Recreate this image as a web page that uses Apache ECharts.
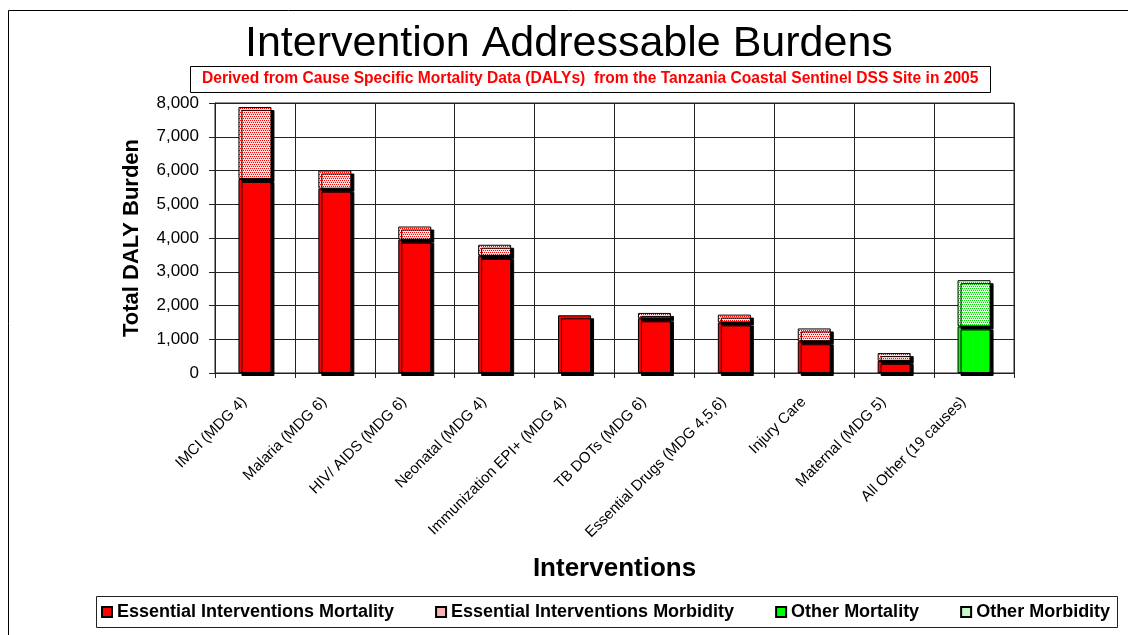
<!DOCTYPE html>
<html>
<head>
<meta charset="utf-8">
<script src="https://cdn.jsdelivr.net/npm/echarts@6/dist/echarts.min.js"></script>
<style>
  html, body { margin: 0; padding: 0; background: #fff; }
  #chart { width: 1128px; height: 635px; }
</style>
</head>
<body>
<div id="chart"></div>
<script>
const categories = [
  "IMCI (MDG 4)",
  "Malaria (MDG 6)",
  "HIV/ AIDS (MDG 6)",
  "Neonatal (MDG 4)",
  "Immunization EPI+ (MDG 4)",
  "TB DOTs (MDG 6)",
  "Essential Drugs (MDG 4,5,6)",
  "Injury Care",
  "Maternal (MDG 5)",
  "All Other (19 causes)"
];
// stacked pieces (DALYs)
const essentialMortality = [5750, 5460, 3950, 3470, 1710, 1620, 1500, 940, 360, "-"];
const essentialMorbidity = [2130, 540, 390, 330, "-", 160, 230, 380, 230, "-"];
const otherMortality = ["-", "-", "-", "-", "-", "-", "-", "-", "-", 1380];
const otherMorbidity = ["-", "-", "-", "-", "-", "-", "-", "-", "-", 1370];
const yTicks = { min: 0, max: 8000, interval: 1000 };

const font = '"Liberation Sans", Arial, sans-serif';

// dotted fill like the old excel pattern
function dots(bg, color) {
  const c = document.createElement("canvas");
  c.width = 4;
  c.height = 4;
  const ctx = c.getContext("2d");
  ctx.fillStyle = bg;
  ctx.fillRect(0, 0, 4, 4);
  ctx.fillStyle = color;
  [[0, 0], [2, 0], [1, 2], [3, 2]].forEach(function (p) {
    ctx.fillRect(p[0], p[1], 1, 1);
  });
  return { image: c, repeat: "repeat" };
}

const barStyle = function (color) {
  return {
    color: color,
    borderColor: "#000",
    borderWidth: 1,
    shadowColor: "#000",
    shadowBlur: 0,
    shadowOffsetX: 3,
    shadowOffsetY: 3
  };
};

function bar(name, data, color) {
  return {
    name: name,
    type: "bar",
    stack: "total",
    barWidth: 33,
    data: data,
    itemStyle: barStyle(color),
    emphasis: { disabled: true }
  };
}

const chart = echarts.init(document.getElementById("chart"), null, { renderer: "canvas" });

chart.setOption({
  animation: false,
  backgroundColor: "#fff",
  textStyle: { fontFamily: font },
  title: [
    {
      text: "Intervention Addressable Burdens",
      left: 240,
      top: 18,
      textStyle: { fontSize: 43, fontWeight: "normal", color: "#000", fontFamily: font }
    },
    {
      text: "Derived from Cause Specific Mortality Data (DALYs)  from the Tanzania Coastal Sentinel DSS Site in 2005",
      left: 190,
      top: 66,
      padding: [5, 12, 6, 12],
      borderColor: "#000",
      borderWidth: 1,
      textStyle: { fontSize: 15.6, fontWeight: "bold", color: "#ff0000", fontFamily: font }
    }
  ],
  graphic: [
    {
      type: "rect",
      shape: { x: 8.5, y: 10.5, width: 1140, height: 640 },
      style: { fill: null, stroke: "#000", lineWidth: 1 },
      silent: true
    },
    {
      type: "rect",
      shape: { x: 96.5, y: 596.5, width: 1021, height: 31 },
      style: { fill: null, stroke: "#222", lineWidth: 1 },
      silent: true
    }
  ],
  legend: {
    left: 101,
    top: 603,
    width: 1100,
    padding: 0,
    itemGap: 41,
    itemWidth: 10,
    itemHeight: 10,
    icon: "rect",
    selectedMode: false,
    textStyle: { fontSize: 18, fontWeight: "bold", color: "#000", fontFamily: font },
    data: [
      { name: "Essential Interventions Mortality" },
      { name: "Essential Interventions Morbidity", itemStyle: { color: "#f8b4b4", shadowOffsetX: 0, shadowOffsetY: 0 } },
      { name: "Other Mortality" },
      { name: "Other Morbidity", itemStyle: { color: "#c8f8c8", shadowOffsetX: 0, shadowOffsetY: 0 } }
    ]
  },
  grid: {
    left: 215,
    right: 114,
    top: 103,
    bottom: 262,
    show: true,
    borderColor: "#222",
    borderWidth: 1
  },
  xAxis: {
    type: "category",
    data: categories,
    name: "Interventions",
    nameLocation: "middle",
    nameGap: 183,
    nameTextStyle: { fontSize: 26, fontWeight: "bold", color: "#000" },
    axisLine: { lineStyle: { color: "#222" } },
    axisTick: { show: true, alignWithLabel: false, length: 5, lineStyle: { color: "#222" } },
    splitLine: { show: true, lineStyle: { color: "#222", width: 1 } },
    axisLabel: {
      interval: 0,
      rotate: 45,
      margin: 16,
      padding: [0, 15, 0, 0],
      fontSize: 15,
      color: "#000"
    }
  },
  yAxis: {
    type: "value",
    min: yTicks.min,
    max: yTicks.max,
    interval: yTicks.interval,
    name: "Total DALY Burden",
    nameLocation: "middle",
    nameGap: 72,
    nameTextStyle: { fontSize: 22, fontWeight: "bold", color: "#000" },
    axisLine: { show: true, lineStyle: { color: "#222" } },
    axisTick: { show: true, length: 6, lineStyle: { color: "#222" } },
    splitLine: { show: true, lineStyle: { color: "#222", width: 1 } },
    axisLabel: { fontSize: 17, color: "#000", margin: 16 }
  },
  series: [
    bar("Essential Interventions Mortality", essentialMortality, "#ff0000"),
    bar("Essential Interventions Morbidity", essentialMorbidity, dots("#ffe2e2", "#ff0000")),
    bar("Other Mortality", otherMortality, "#00ff00"),
    bar("Other Morbidity", otherMorbidity, dots("#e4ffe4", "#00dd00"))
  ]
});
</script>
</body>
</html>
